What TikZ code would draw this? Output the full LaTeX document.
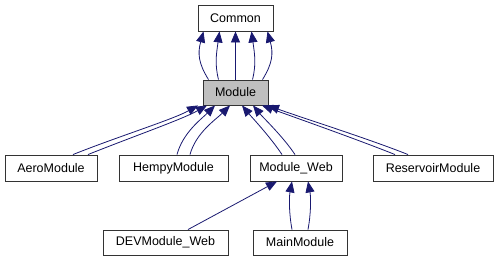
\documentclass[tikz,border=0pt]{standalone}
\usepackage{fontspec}
\setmainfont{Liberation Sans}
\usetikzlibrary{arrows.meta}
\definecolor{edgeblue}{RGB}{25,25,112}
\definecolor{basegray}{RGB}{191,191,191}
\tikzset{
	x=1pt, y=-1pt,
	class/.style={draw=black!80, line width=0.9pt, fill=white, inner sep=0pt,
		font=\fontsize{12.5}{14}\selectfont},
	current/.style={fill=basegray}, % the class the graph is drawn for
	inh/.style={draw=edgeblue, line width=0.8pt,
		-{Triangle[length=11pt,width=9pt]}}, % arrow points at the parent
}

\begin{document}
\begin{tikzpicture}
	\useasboundingbox (0,0) rectangle (499,261);

	\node[class, minimum width=75pt, minimum height=26pt] (common) at (235.5,18) {Common};
	\node[class, current, minimum width=65pt, minimum height=25pt] (module) at (235.5,92.5) {Module};

	\node[class, minimum width=92pt, minimum height=26pt] (aero) at (51,168) {AeroModule};
	\node[class, minimum width=109pt, minimum height=26pt] (hempy) at (173.5,168) {HempyModule};
	\node[class, minimum width=92pt, minimum height=26pt] (web) at (296,168) {Module\_Web};
	\node[class, minimum width=120pt, minimum height=26pt] (reservoir) at (433,168) {ReservoirModule};

	\node[class, minimum width=125pt, minimum height=25pt] (dev) at (165.5,242.5) {DEVModule\_Web};
	\node[class, minimum width=94pt, minimum height=25pt] (main) at (300,242.5) {MainModule};

	% Module -> Common
	\draw[inh] ([xshift=-27pt]module.north) .. controls +(-10,-16) and +(-6,22) .. ([xshift=-32pt]common.south);
	\draw[inh] ([xshift=-17pt]module.north) .. controls +(-4,-16) and +(-3,22) .. ([xshift=-16pt]common.south);
	\draw[inh] (module.north) -- (common.south);
	\draw[inh] ([xshift=17pt]module.north) .. controls +(4,-16) and +(3,22) .. ([xshift=16pt]common.south);
	\draw[inh] ([xshift=27pt]module.north) .. controls +(10,-16) and +(6,22) .. ([xshift=32pt]common.south);

	% second row -> Module
	\draw[inh] ([xshift=22pt]aero.north) .. controls +(45,-18) and +(-25,14) .. ([xshift=-37.5pt]module.south);
	\draw[inh] ([xshift=37pt]aero.north) .. controls +(45,-18) and +(-25,14) .. ([xshift=-28.5pt]module.south);
	\draw[inh] ([xshift=3.5pt]hempy.north) .. controls +(6,-22) and +(-14,14) .. ([xshift=-20.5pt]module.south);
	\draw[inh] ([xshift=16.5pt]hempy.north) .. controls +(6,-22) and +(-14,14) .. ([xshift=-5.5pt]module.south);
	\draw[inh] ([xshift=-14pt]web.north) .. controls +(-12,-18) and +(10,12) .. ([xshift=6.5pt]module.south);
	\draw[inh] ([xshift=-1pt]web.north) .. controls +(-12,-18) and +(10,12) .. ([xshift=17.5pt]module.south);
	\draw[inh] ([xshift=-38pt]reservoir.north) .. controls +(-40,-16) and +(30,11) .. ([xshift=26.5pt]module.south);
	\draw[inh] ([xshift=-25pt]reservoir.north) .. controls +(-40,-16) and +(30,11) .. ([xshift=32.5pt]module.south);

	% third row -> Module_Web
	\draw[inh] ([xshift=22.5pt]dev.north) -- ([xshift=-19pt]web.south);
	\draw[inh] ([xshift=-8pt]main.north) .. controls +(-3,-16) and +(-3,16) .. ([xshift=-4pt]web.south);
	\draw[inh] ([xshift=8pt]main.north) .. controls +(3,-16) and +(3,16) .. ([xshift=12pt]web.south);
\end{tikzpicture}
\end{document}
